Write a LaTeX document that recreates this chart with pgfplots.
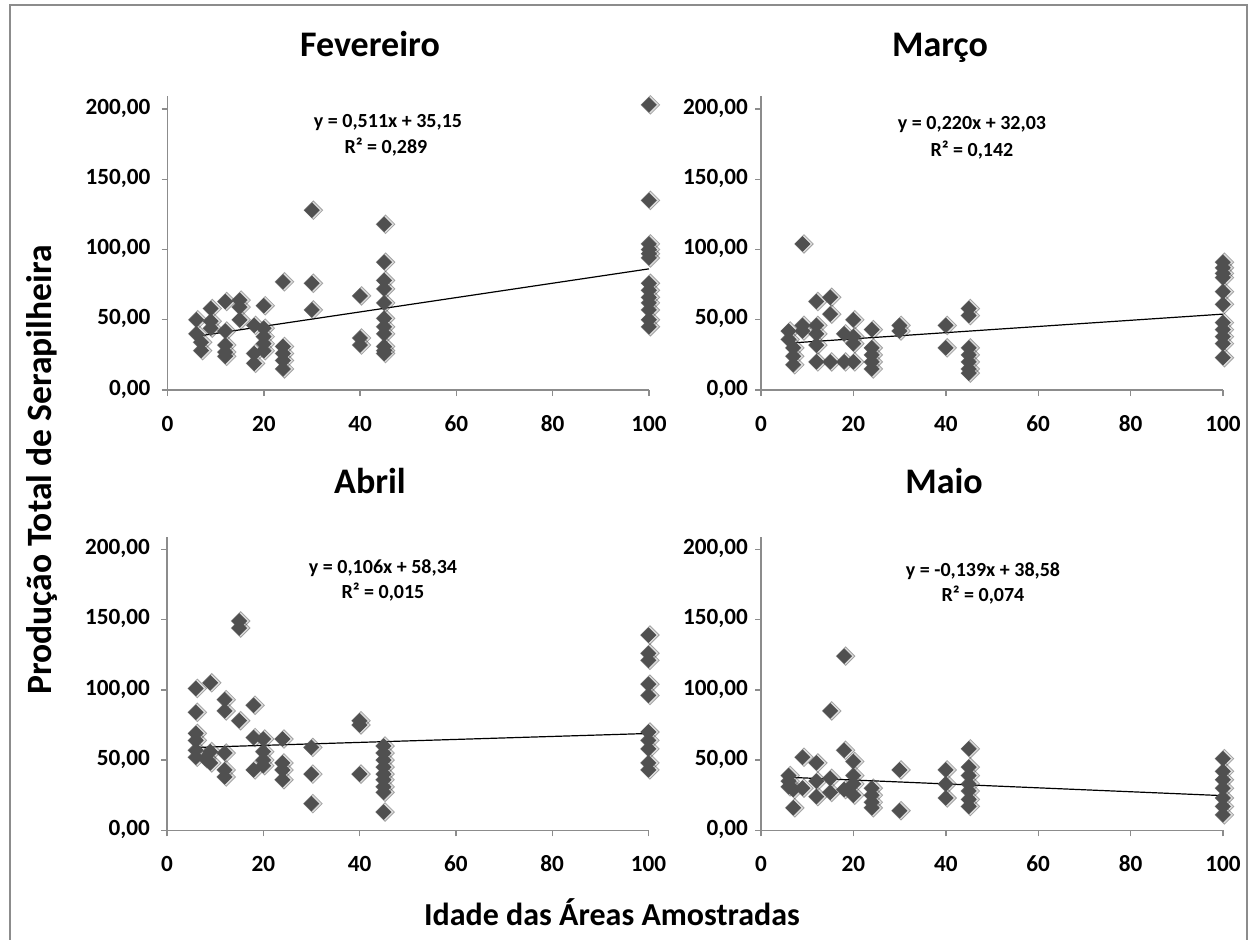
\documentclass[border=0pt]{standalone}
\usepackage{pgfplots}
\pgfplotsset{compat=1.18}
\usepackage{pgfplotstable}
\usepackage{fontspec}
\setmainfont{Carlito}
\definecolor{mk}{RGB}{80,80,80}
\definecolor{ax}{RGB}{140,140,140}

\pgfplotstableread{
x y
6 50
6 40
7 34
7 28
9 58
9 49
9 44
12 63
12 42
12 32
12 27
12 24
15 64
15 59
15 50
18 46
18 26
18 19
20 60
20 44
20 38
20 33
20 28
24 77
24 31
24 26
24 21
24 15
30 128
30 76
30 57
40 67
40 37
40 32
45 118
45 91
45 78
45 72
45 62
45 51
45 45
45 40
45 31
45 28
45 26
100 203
100 135
100 104
100 100
100 97
100 94
100 76
100 71
100 66
100 62
100 57
100 50
100 45
}\fev

\pgfplotstableread{
x y
6 42
6 36
7 30
7 24
7 18
9 104
9 46
9 42
12 63
12 46
12 40
12 32
12 20
15 66
15 54
15 20
18 40
18 20
20 50
20 38
20 33
20 20
24 43
24 30
24 25
24 20
24 15
30 46
30 42
40 46
40 30
45 58
45 53
45 30
45 25
45 20
45 15
45 12
100 91
100 87
100 83
100 80
100 70
100 61
100 48
100 43
100 38
100 33
100 23
}\mar

\pgfplotstableread{
x y
6 101
6 84
6 69
6 64
6 57
6 52
8 51
9 105
9 56
9 48
12 93
12 85
12 55
12 43
12 38
15 149
15 144
15 78
18 89
18 66
18 43
20 65
20 56
20 50
20 46
24 65
24 48
24 43
24 36
30 59
30 40
30 19
40 78
40 75
40 40
45 60
45 55
45 50
45 45
45 40
45 36
45 31
45 27
45 13
100 139
100 126
100 121
100 104
100 96
100 70
100 64
100 58
100 48
100 43
}\abr

\pgfplotstableread{
x y
6 39
6 35
6 31
7 29
7 16
9 52
9 30
12 48
12 35
12 24
15 85
15 37
15 27
18 124
18 57
18 29
20 49
20 39
20 33
20 25
24 30
24 25
24 20
24 16
30 43
30 14
40 43
40 33
40 23
45 58
45 45
45 39
45 33
45 28
45 22
45 17
100 51
100 42
100 36
100 30
100 23
100 17
100 11
}\mai

\pgfplotsset{
  panel/.style={
    scale only axis, anchor=south west, height=146.8pt,
    xmin=0, xmax=100, ymin=0, ymax=209,
    axis lines=left, axis line style={-, ax, line width=0.7pt},
    tick style={ax, line width=0.7pt}, tick align=outside, major tick length=3pt,
    xtick={0,20,40,60,80,100}, ytick={0,50,100,150,200},
    xticklabels={0,20,40,60,80,100},
    yticklabels={{0,00},{50,00},{100,00},{150,00},{200,00}},
    typeset ticklabels with strut,
    ticklabel style={font=\fontsize{11.6}{13}\selectfont\bfseries},
    xticklabel style={yshift=-5pt},
    clip=false,
  },
  pts/.style={only marks, mark=square*, mark size=2.6pt,
    mark options={rotate=45, fill=mk, draw=mk, line width=0.3pt}},
  shd/.style={only marks, mark=square*, mark size=3.3pt,
    mark options={rotate=45, fill=black!45, draw=none, opacity=0.3, xshift=0.5pt, yshift=-0.5pt}},
  trend/.style={black, line width=0.6pt, no marks},
}

\begin{document}
\begin{tikzpicture}
\path[use as bounding box] (0pt,0pt) rectangle (626.5pt,-469.5pt);
\draw[ax, line width=0.6pt] (5pt,-470pt) -- (5pt,-2.5pt) -- (623.5pt,-2.5pt) -- (623.5pt,-470pt);

% Fevereiro
\begin{axis}[panel, at={(83.75pt,-195pt)}, width=240.75pt, yticklabel style={xshift=-2pt}]
\addplot[shd] table {\fev};
\addplot[pts] table {\fev};
\addplot[trend] coordinates {(6,38.22) (100,86.25)};
\end{axis}

% Marco
\begin{axis}[panel, at={(380.5pt,-195pt)}, width=231pt, yticklabel style={xshift=0pt}]
\addplot[shd] table {\mar};
\addplot[pts] table {\mar};
\addplot[trend] coordinates {(6,33.35) (100,54.03)};
\end{axis}

% Abril
\begin{axis}[panel, at={(83.5pt,-415.15pt)}, width=240.75pt, yticklabel style={xshift=-2pt}]
\addplot[shd] table {\abr};
\addplot[pts] table {\abr};
\addplot[trend] coordinates {(6,58.98) (100,68.94)};
\end{axis}

% Maio
\begin{axis}[panel, at={(380.5pt,-415.15pt)}, width=231pt, yticklabel style={xshift=0pt}]
\addplot[shd] table {\mai};
\addplot[pts] table {\mai};
\addplot[trend] coordinates {(6,37.75) (100,24.68)};
\end{axis}

% titles
\begin{scope}[every node/.style={font=\fontsize{18}{20}\selectfont\bfseries, anchor=base}]
\node at (185pt,-28pt) {Fevereiro};
\node at (470pt,-28pt) {Março};
\node at (185pt,-246.5pt) {Abril};
\node at (472pt,-246.5pt) {Maio};
\end{scope}

% equations
\begin{scope}[every node/.style={font=\fontsize{10}{11}\selectfont\bfseries, inner sep=0pt}]
\node at (194pt,-61.5pt) {y = 0,511x + 35,15};
\node at (193pt,-73.5pt) {R² = 0,289};
\node at (486pt,-62.5pt) {y = 0,220x + 32,03};
\node at (486pt,-75pt) {R² = 0,142};
\node at (191.5pt,-284pt) {y = 0,106x + 58,34};
\node at (191.5pt,-296pt) {R² = 0,015};
\node at (491.5pt,-285.5pt) {y = -0,139x + 38,58};
\node at (491.5pt,-297.5pt) {R² = 0,074};
\end{scope}

% axis labels
\node[rotate=90, font=\fontsize{17.8}{19}\selectfont\bfseries] at (21pt,-235pt) {Produção Total de Serapilheira};
\node[font=\fontsize{16}{18}\selectfont\bfseries] at (306pt,-456pt) {Idade das Áreas Amostradas};
\end{tikzpicture}
\end{document}
